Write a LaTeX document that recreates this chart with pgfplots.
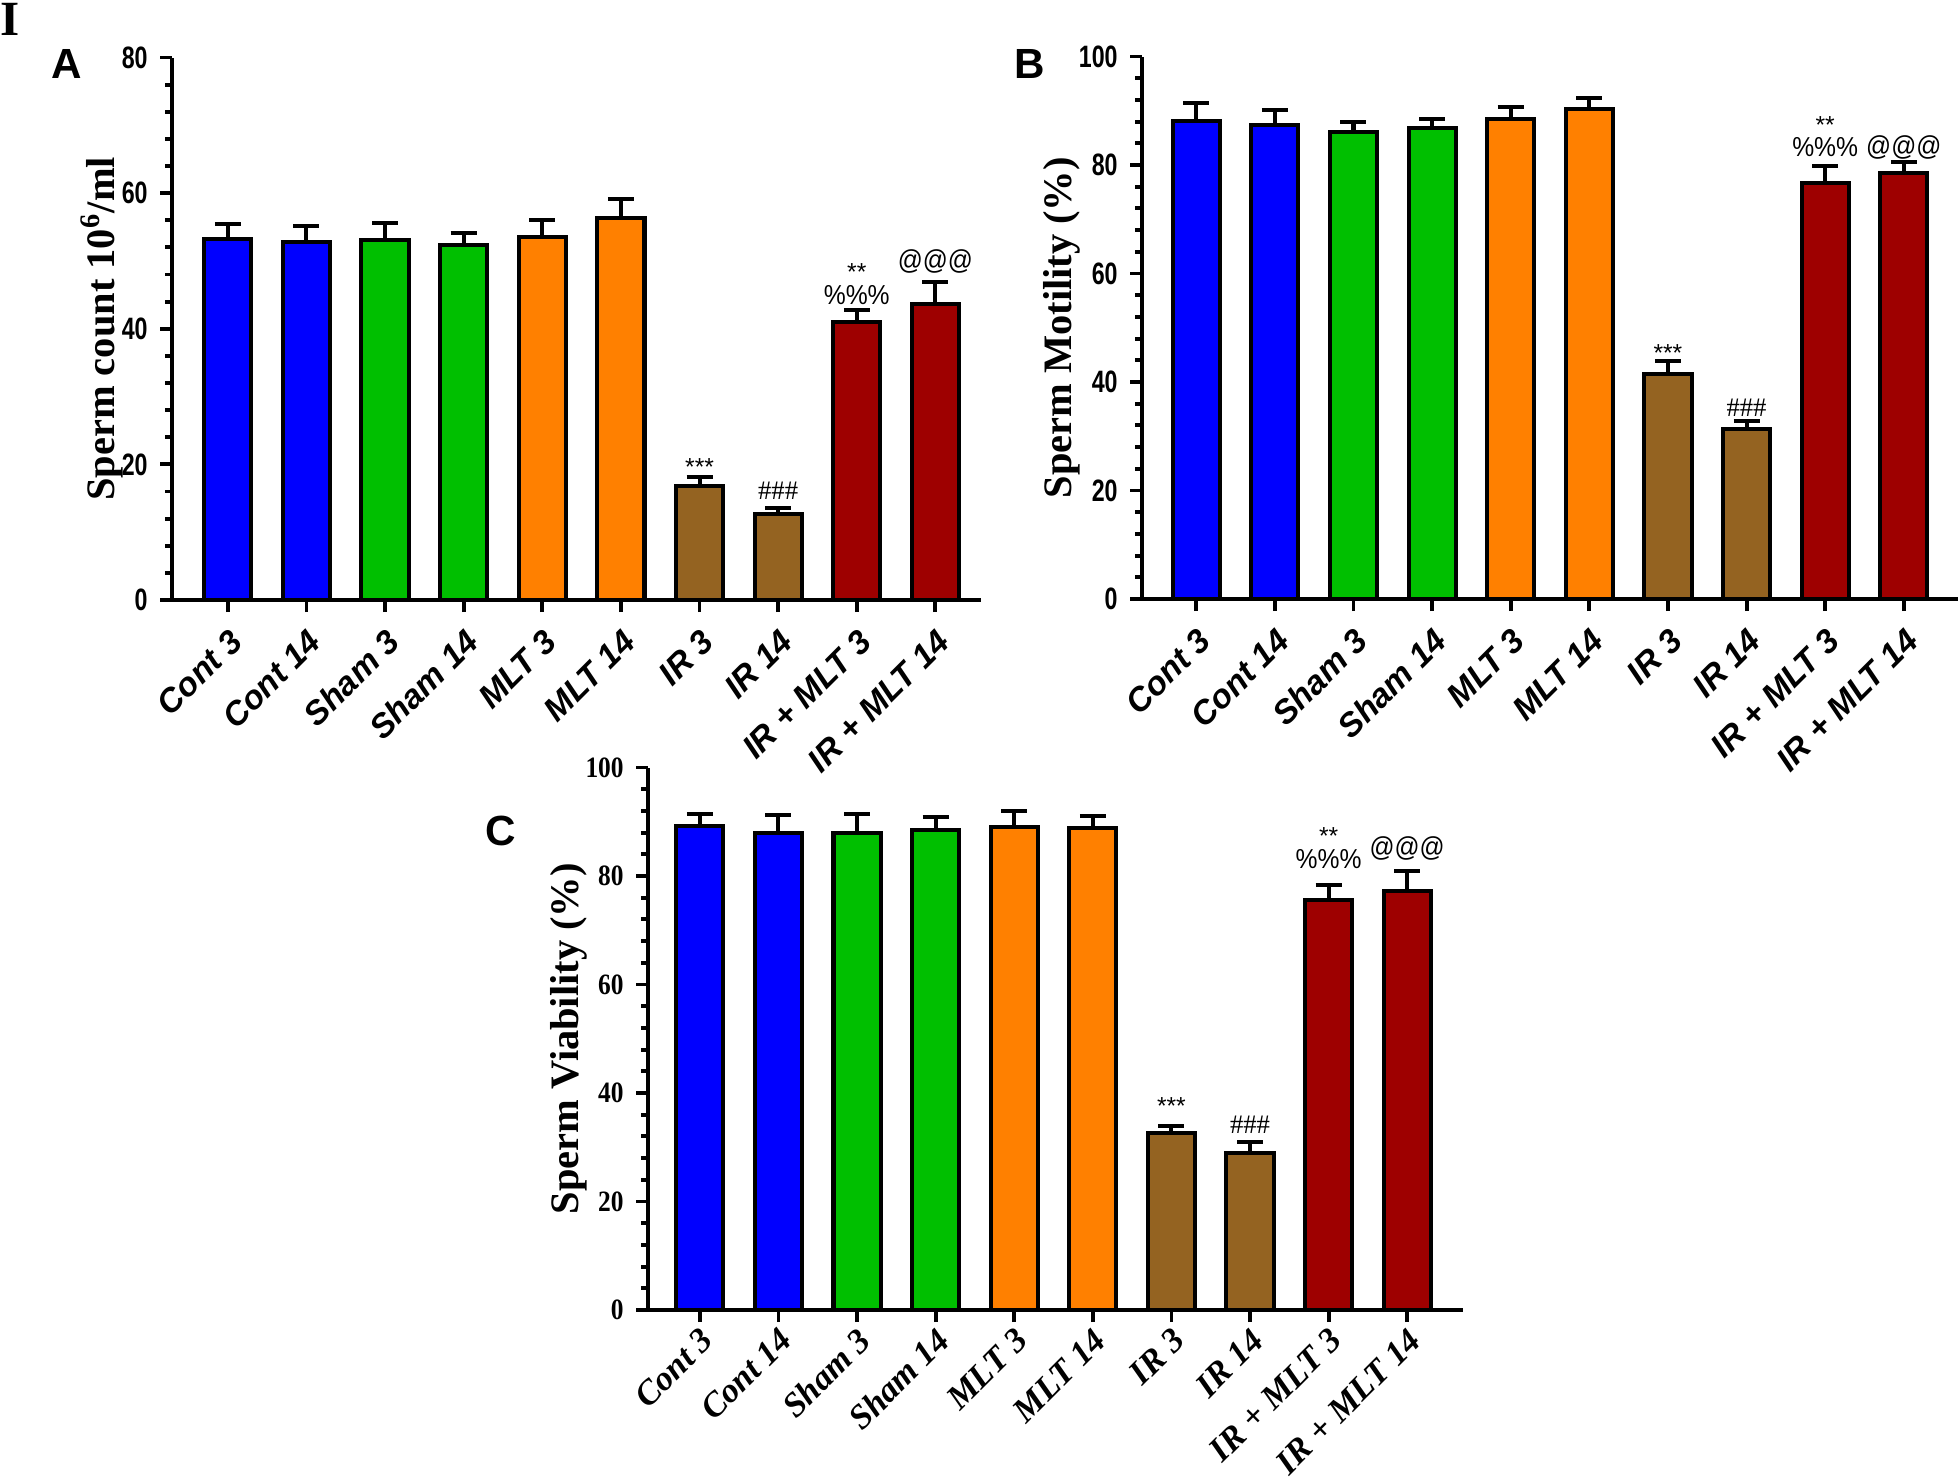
\documentclass[border=0pt]{standalone}
\usepackage{pgfplots}
\pgfplotsset{compat=1.18}
\usepackage{fontspec}
\setmainfont{Liberation Serif}
\newfontfamily\arial{Liberation Sans}
\newfontfamily\arialnarrow[FakeStretch=0.75]{Liberation Sans}
\newfontfamily\arialsemi[FakeStretch=0.9]{Liberation Sans}
\newfontfamily\timesnarrow[FakeStretch=0.86]{Liberation Serif}

\definecolor{cblue}{RGB}{0,0,255}
\definecolor{cgreen}{RGB}{0,191,0}
\definecolor{corange}{RGB}{255,128,0}
\definecolor{cbrown}{RGB}{148,99,33}
\definecolor{cred}{RGB}{158,0,0}

\pgfplotsset{
  panel/.style={
    scale only axis, height=5.425cm,
    ymin=0, clip=false,
    axis x line*=bottom, axis y line*=left,
    axis line style={line width=1.2pt},
    tick align=outside,
    tick style={black, line width=1.1pt},
    major tick length=1.2mm, minor tick length=0.7mm,
    minor y tick num=4,
    xtick={0,...,9},
    xticklabels={Cont 3,Cont 14,Sham 3,Sham 14,MLT 3,MLT 14,IR 3,IR 14,IR + MLT 3,IR + MLT 14},
    /pgf/number format/assume math mode=true,
  },
  bars/.style={ybar, bar width=0.6, draw=black, line width=1.15pt, fill=#1,
     error bars/y dir=plus, error bars/y explicit,
     error bars/error bar style={line width=1.15pt, black},
     error bars/error mark options={rotate=90, black, mark size=1.3mm, line width=1.15pt}},
}
\newcommand{\annA}{\arial\fontsize{7}{7}\selectfont}
\newcommand{\annP}{\arialsemi\fontsize{7.8}{7.8}\selectfont}
\newcommand{\annH}{\fontsize{7.6}{7.6}\selectfont}

\begin{document}
\begin{tikzpicture}
\path[use as bounding box] (0,0) rectangle (19.6cm,-14.83cm);
\node[anchor=north west, inner sep=0, font=\bfseries\fontsize{14}{14}\selectfont] at (0,-0.03) {I};
\node[inner sep=0, font=\arial\bfseries\fontsize{12}{12}\selectfont] at (0.67,-0.64) {A};
\node[inner sep=0, font=\arial\bfseries\fontsize{12}{12}\selectfont] at (10.30,-0.64) {B};
\node[inner sep=0, font=\arial\bfseries\fontsize{12}{12}\selectfont] at (5.01,-8.31) {C};

% ---------------- Panel A ----------------
\begin{axis}[panel, at={(1.72cm,-6.00cm)}, anchor=south west, width=8.09cm,
  xmin=-0.71, xmax=9.58, ymax=80, ytick={0,20,...,80},
  yticklabel style={font=\arialnarrow\bfseries\fontsize{8.8}{8.8}\selectfont},
  xticklabel style={font=\arial\bfseries\itshape\fontsize{9.5}{9.5}\selectfont, xshift=1.7mm, yshift=-1.5mm, rotate=45, anchor=east},
  ylabel={\textbf{Sperm count 10\textsuperscript{6}/ml}},
  ylabel style={at={(axis description cs:-0.0865,0.5)}, anchor=center, font=\bfseries\fontsize{11.5}{12}\selectfont}]
\addplot[bars=cblue] table[y error=e] {
x y e
0 53.3 2.2
1 52.8 2.3
};
\addplot[bars=cgreen] table[y error=e] {
x y e
2 53.1 2.5
3 52.3 1.8
};
\addplot[bars=corange] table[y error=e] {
x y e
4 53.5 2.5
5 56.3 2.9
};
\addplot[bars=cbrown] table[y error=e] {
x y e
6 16.8 1.3
7 12.7 0.9
};
\addplot[bars=cred] table[y error=e] {
x y e
8 41.0 1.8
9 43.6 3.3
};
\node[font=\annA] at (axis cs:6,19.6) {***};
\node[font=\annH] at (axis cs:7,16.1) {\#\#\#};
\node[font=\annA] at (axis cs:8,48.3) {**};
\node[font=\annP] at (axis cs:8,45.0) {\%\%\%};
\node[font=\annP] at (axis cs:9,49.9) {@@@};
\end{axis}

% ---------------- Panel B ----------------
\begin{axis}[panel, at={(11.42cm,-5.99cm)}, anchor=south west, width=8.16cm,
  xmin=-0.69, xmax=9.69, ymax=100, ytick={0,20,...,100},
  yticklabel style={font=\arialnarrow\bfseries\fontsize{8.8}{8.8}\selectfont},
  xticklabel style={font=\arial\bfseries\itshape\fontsize{9.5}{9.5}\selectfont, xshift=1.7mm, yshift=-1.5mm, rotate=45, anchor=east},
  ylabel={\textbf{Sperm Motility (\%)}},
  ylabel style={at={(axis description cs:-0.098,0.5)}, anchor=center, font=\bfseries\fontsize{11.5}{12}\selectfont}]
\addplot[bars=cblue] table[y error=e] {
x y e
0 88.2 3.2
1 87.4 2.7
};
\addplot[bars=cgreen] table[y error=e] {
x y e
2 86.1 1.8
3 86.9 1.6
};
\addplot[bars=corange] table[y error=e] {
x y e
4 88.5 2.2
5 90.4 1.9
};
\addplot[bars=cbrown] table[y error=e] {
x y e
6 41.4 2.4
7 31.3 1.5
};
\addplot[bars=cred] table[y error=e] {
x y e
8 76.6 3.3
9 78.5 2.0
};
\node[font=\annA] at (axis cs:6,45.3) {***};
\node[font=\annH] at (axis cs:7,35.2) {\#\#\#};
\node[font=\annA] at (axis cs:8,87.3) {**};
\node[font=\annP] at (axis cs:8,83.3) {\%\%\%};
\node[font=\annP] at (axis cs:9,83.3) {@@@};
\end{axis}

% ---------------- Panel C ----------------
\begin{axis}[panel, at={(6.48cm,-13.10cm)}, anchor=south west, width=8.15cm,
  xmin=-0.66, xmax=9.71, ymax=100, ytick={0,20,...,100},
  yticklabel style={font=\timesnarrow\bfseries\fontsize{8.4}{8.4}\selectfont},
  xticklabel style={font=\bfseries\itshape\fontsize{9.8}{9.8}\selectfont, xshift=1.6mm, yshift=-0.4mm, rotate=45, anchor=east},
  ylabel={\textbf{Sperm Viability (\%)}},
  ylabel style={at={(axis description cs:-0.097,0.5)}, anchor=center, font=\bfseries\fontsize{11.5}{12}\selectfont}]
\addplot[bars=cblue] table[y error=e] {
x y e
0 89.2 2.3
1 87.9 3.4
};
\addplot[bars=cgreen] table[y error=e] {
x y e
2 88.0 3.4
3 88.5 2.3
};
\addplot[bars=corange] table[y error=e] {
x y e
4 89.1 2.9
5 88.8 2.3
};
\addplot[bars=cbrown] table[y error=e] {
x y e
6 32.6 1.4
7 29.0 1.9
};
\addplot[bars=cred] table[y error=e] {
x y e
8 75.6 2.8
9 77.3 3.7
};
\node[font=\annA] at (axis cs:6,37.6) {***};
\node[font=\annH] at (axis cs:7,34.1) {\#\#\#};
\node[font=\annA] at (axis cs:8,87.3) {**};
\node[font=\annP] at (axis cs:8,83.2) {\%\%\%};
\node[font=\annP] at (axis cs:9,85.0) {@@@};
\end{axis}
\end{tikzpicture}
\end{document}
